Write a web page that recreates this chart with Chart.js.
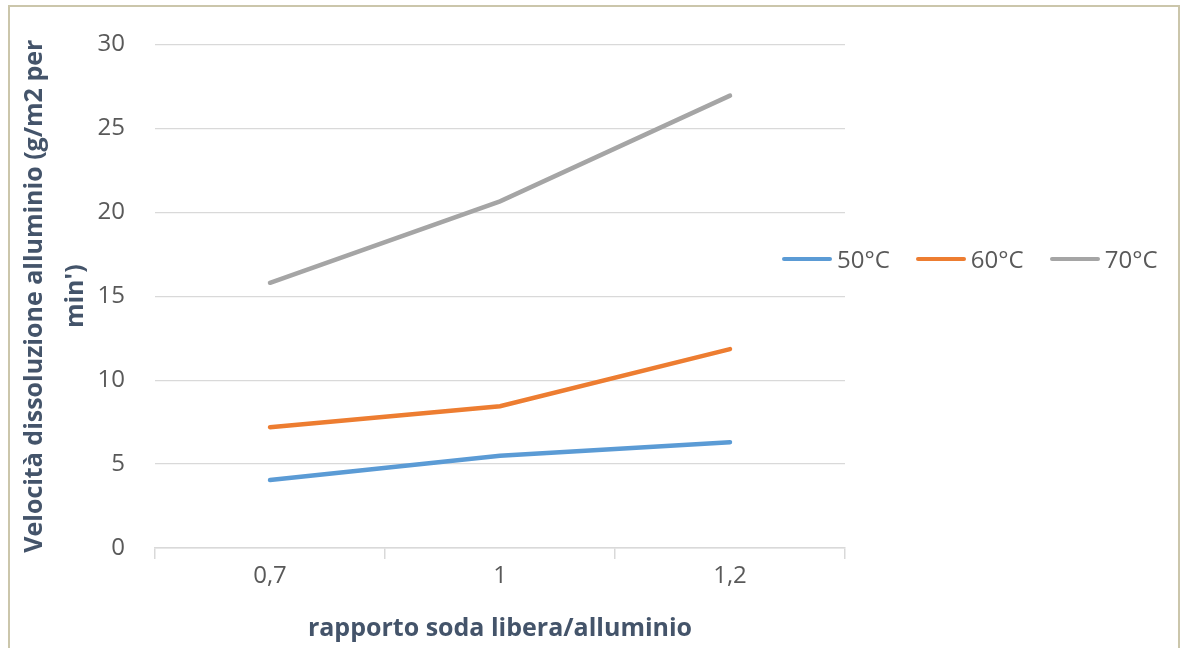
<!DOCTYPE html>
<html lang="it">
<head>
  <meta charset="UTF-8" />
  <title>Velocità dissoluzione alluminio</title>
  <script src="https://cdn.jsdelivr.net/npm/chart.js"></script>
  <style>
    * { box-sizing: border-box; }
    html, body { margin: 0; padding: 0; background: #ffffff; overflow: hidden; }
    .wrap { position: relative; width: 1184px; height: 648px; }
    .frame {
      position: absolute; left: 8px; top: 5px; width: 1172px; height: 700px;
      border: 2px solid #cbc6ab; pointer-events: none;
    }
    canvas { position: absolute; left: 0; top: 0; }
    .legenda {
      position: absolute; left: 782px; top: 242px;
      display: flex; align-items: center;
      font-family: 'Open Sans', sans-serif; font-size: 24px; color: #595959;
    }
    .legenda .item { display: flex; align-items: center; margin-right: 26px; }
    .legenda .linea { width: 50px; height: 4px; border-radius: 2px; margin-right: 5px; }
  </style>
</head>
<body>
  <div class="wrap">
    <canvas id="grafico" width="1184" height="648"></canvas>
    <div class="frame"></div>
    <div class="legenda" id="legenda"></div>
  </div>

  <script>
    // dati
    const categorie = ['0,7', '1', '1,2'];
    const serie50 = [4.05, 5.5, 6.3];
    const serie60 = [7.2, 8.45, 11.85];
    const serie70 = [15.8, 20.65, 26.95];
    const etichette = ['50°C', '60°C', '70°C'];
    const colori = ['#5b9bd5', '#ed7d31', '#a5a5a5'];

    const testo = '#595959';
    const griglia = '#d9d9d9';
    const font = "'Open Sans', sans-serif";

    const ctx = document.getElementById('grafico').getContext('2d');
    const grafico = new Chart(ctx, {
      type: 'line',
      data: {
        labels: categorie,
        datasets: [serie50, serie60, serie70].map((d, i) => ({
          label: etichette[i],
          data: d,
          borderColor: colori[i],
          backgroundColor: colori[i],
          borderWidth: 4.5,
          pointRadius: 0,
          tension: 0,
          borderCapStyle: 'round'
        }))
      },
      options: {
        responsive: false,
        animation: false,
        layout: { padding: { left: 0, right: 339, top: 44, bottom: 0 } },
        plugins: {
          legend: { display: false },
          tooltip: { enabled: false }
        },
        scales: {
          x: {
            offset: true,
            grid: {
              offset: true,
              drawOnChartArea: false,
              color: griglia,
              tickLength: 11,
              lineWidth: 1.5
            },
            border: { color: griglia, width: 1.5 },
            ticks: { color: testo, font: { family: font, size: 24 }, padding: 3 },
            title: {
              display: true,
              text: 'rapporto soda libera/alluminio',
              color: '#44546a',
              font: { family: font, size: 25, weight: 'bold', lineHeight: 1.2 },
              padding: { top: 0, bottom: 4 }
            },
            afterFit: s => { s.height = 100; }
          },
          y: {
            min: 0,
            max: 30,
            ticks: { stepSize: 5, color: testo, font: { family: font, size: 24 }, padding: 30 },
            grid: { color: griglia, lineWidth: 1.2, drawTicks: false },
            border: { display: false },
            title: {
              display: true,
              text: ['Velocità dissoluzione alluminio (g/m2 per', "min')"],
              color: '#44546a',
              font: { family: font, size: 25, weight: 'bold', lineHeight: 1.64 },
              padding: { top: 14, bottom: 0 }
            },
            afterFit: s => { s.width = 155; }
          }
        }
      }
    });

    // legenda orizzontale a destra
    const leg = document.getElementById('legenda');
    grafico.data.datasets.forEach(ds => {
      const it = document.createElement('div');
      it.className = 'item';
      it.innerHTML = '<span class="linea" style="background:' + ds.borderColor + '"></span><span>' + ds.label + '</span>';
      leg.appendChild(it);
    });
  </script>
</body>
</html>
